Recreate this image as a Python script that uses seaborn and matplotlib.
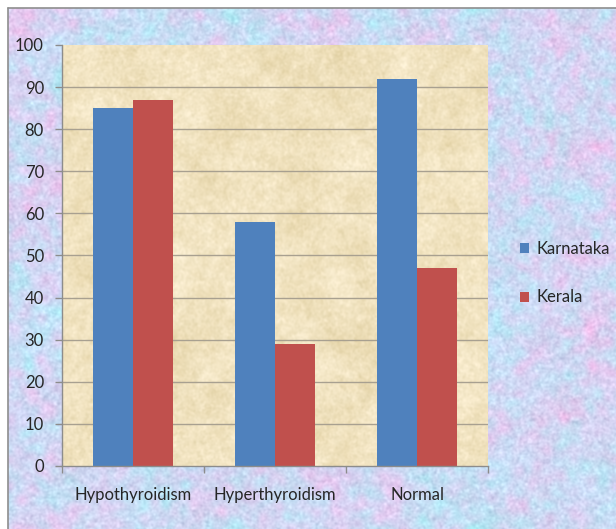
import numpy as np
import pandas as pd
import matplotlib
matplotlib.use("Agg")
import matplotlib.pyplot as plt
from matplotlib.patches import Patch
from matplotlib.lines import Line2D
import seaborn as sns

# Survey results (%)
categories = ["Hypothyroidism", "Hyperthyroidism", "Normal"]
states = ["Karnataka", "Kerala"]
karnataka = [85, 58, 92]
kerala = [87, 29, 47]
y_ticks = list(range(0, 101, 10))

colors = ["#4F81BD", "#C0504D"]

df = pd.DataFrame({
    "Condition": categories * 2,
    "State": [states[0]] * 3 + [states[1]] * 3,
    "Value": karnataka + kerala,
})

sns.set_theme(style="white")
plt.rcParams["font.family"] = ["Lato", "DejaVu Sans"]

W, H = 616, 529
fig = plt.figure(figsize=(W / 100, H / 100), dpi=100)
fig.patch.set_facecolor("white")


def smooth_noise(h, w, sigma, rng):
    """Gaussian-filtered white noise, normalised to unit std."""
    n = rng.standard_normal((h, w))
    fy = np.fft.fftfreq(h)[:, None]
    fx = np.fft.fftfreq(w)[None, :]
    kern = np.exp(-2 * (np.pi * sigma) ** 2 * (fx ** 2 + fy ** 2))
    out = np.real(np.fft.ifft2(np.fft.fft2(n) * kern))
    return (out - out.mean()) / (out.std() + 1e-9)


rng = np.random.default_rng(7)

# Marbled chart-area fill
bh, bw = H - 8, W - 8
n1 = 0.5 * smooth_noise(bh, bw, 12, rng) + 0.5 * smooth_noise(bh, bw, 4, rng)
n2 = 0.5 * smooth_noise(bh, bw, 15, rng) + 0.5 * smooth_noise(bh, bw, 4, rng)
n3 = smooth_noise(bh, bw, 1.0, rng)
base = np.array([208, 215, 243]) / 255
pink = np.array([11, -6, 0]) / 255
cyan = np.array([-8, 7, 3]) / 255
grain = np.array([6, 6, 5]) / 255
bg = (base[None, None, :] + n1[..., None] * pink + n2[..., None] * cyan
      + n3[..., None] * grain)
bg = np.clip(bg, 0, 1)

bg_ax = fig.add_axes([8 / W, 0, 1 - 8 / W, bh / H])
bg_ax.imshow(bg, aspect="auto", interpolation="bilinear")
bg_ax.set_axis_off()
fig.add_artist(Line2D([7.5 / W, 7.5 / W], [0, bh / H], color="#8E8E8E", lw=1.2,
                      transform=fig.transFigure))
fig.add_artist(Line2D([7.5 / W, 1], [bh / H, bh / H], color="#8E8E8E", lw=1.2,
                      transform=fig.transFigure))

# Plot area
x0, x1, ytop, ybot = 62, 488, 45, 466
ax = fig.add_axes([x0 / W, (H - ybot) / H, (x1 - x0) / W, (ybot - ytop) / H])

ph, pw = ybot - ytop, x1 - x0
p1 = 0.6 * smooth_noise(ph, pw, 10, rng) + 0.4 * smooth_noise(ph, pw, 3, rng)
p2 = smooth_noise(ph, pw, 1.0, rng)
pbase = np.array([241, 227, 192]) / 255
pvar = np.array([4, 5, 8]) / 255
pgrain = np.array([3, 3, 4]) / 255
parch = np.clip(pbase + p1[..., None] * pvar + p2[..., None] * pgrain, 0, 1)
ax.imshow(parch, extent=[-0.5, 2.5, 0, 100], aspect="auto", zorder=0,
          interpolation="bilinear")

sns.barplot(data=df, x="Condition", y="Value", hue="State", order=categories,
            hue_order=states, palette=colors, width=0.563, gap=0,
            saturation=1, legend=False, ax=ax, zorder=2, linewidth=0)

ax.set_xlim(-0.5, 2.5)
ax.set_ylim(0, 100)
ax.set_aspect("auto")
ax.set_xlabel("")
ax.set_ylabel("")
ax.set_yticks(y_ticks)
ax.set_yticklabels([str(v) for v in y_ticks])
ax.set_xticks([0, 1, 2])
ax.set_xticklabels(categories)
ax.set_xticks([-0.5, 0.5, 1.5, 2.5], minor=True)

for v in y_ticks[1:-1]:
    ax.axhline(v, color="#A8A090", lw=1.0, zorder=1)

for s in ["top", "right"]:
    ax.spines[s].set_visible(False)
for s in ["left", "bottom"]:
    ax.spines[s].set_color("#8C8C8C")
    ax.spines[s].set_linewidth(1.0)

ax.tick_params(axis="y", which="major", length=5, width=1, color="#8C8C8C",
               pad=8, labelsize=12, labelcolor="#262626", left=True)
ax.tick_params(axis="x", which="major", length=0, pad=15, labelsize=12,
               labelcolor="#262626")
ax.tick_params(axis="x", which="minor", length=5, width=1, color="#8C8C8C",
               bottom=True)

handles = [Patch(facecolor=c, edgecolor="none") for c in colors]
fig.legend(handles, states, loc="upper left",
           bbox_to_anchor=(520 / W, (H - 241) / H), frameon=False,
           handlelength=0.55, handleheight=0.55, handletextpad=0.45,
           labelspacing=1.95, fontsize=12, labelcolor="#262626",
           borderaxespad=0, borderpad=0)

fig.savefig("out.png", dpi=100)
